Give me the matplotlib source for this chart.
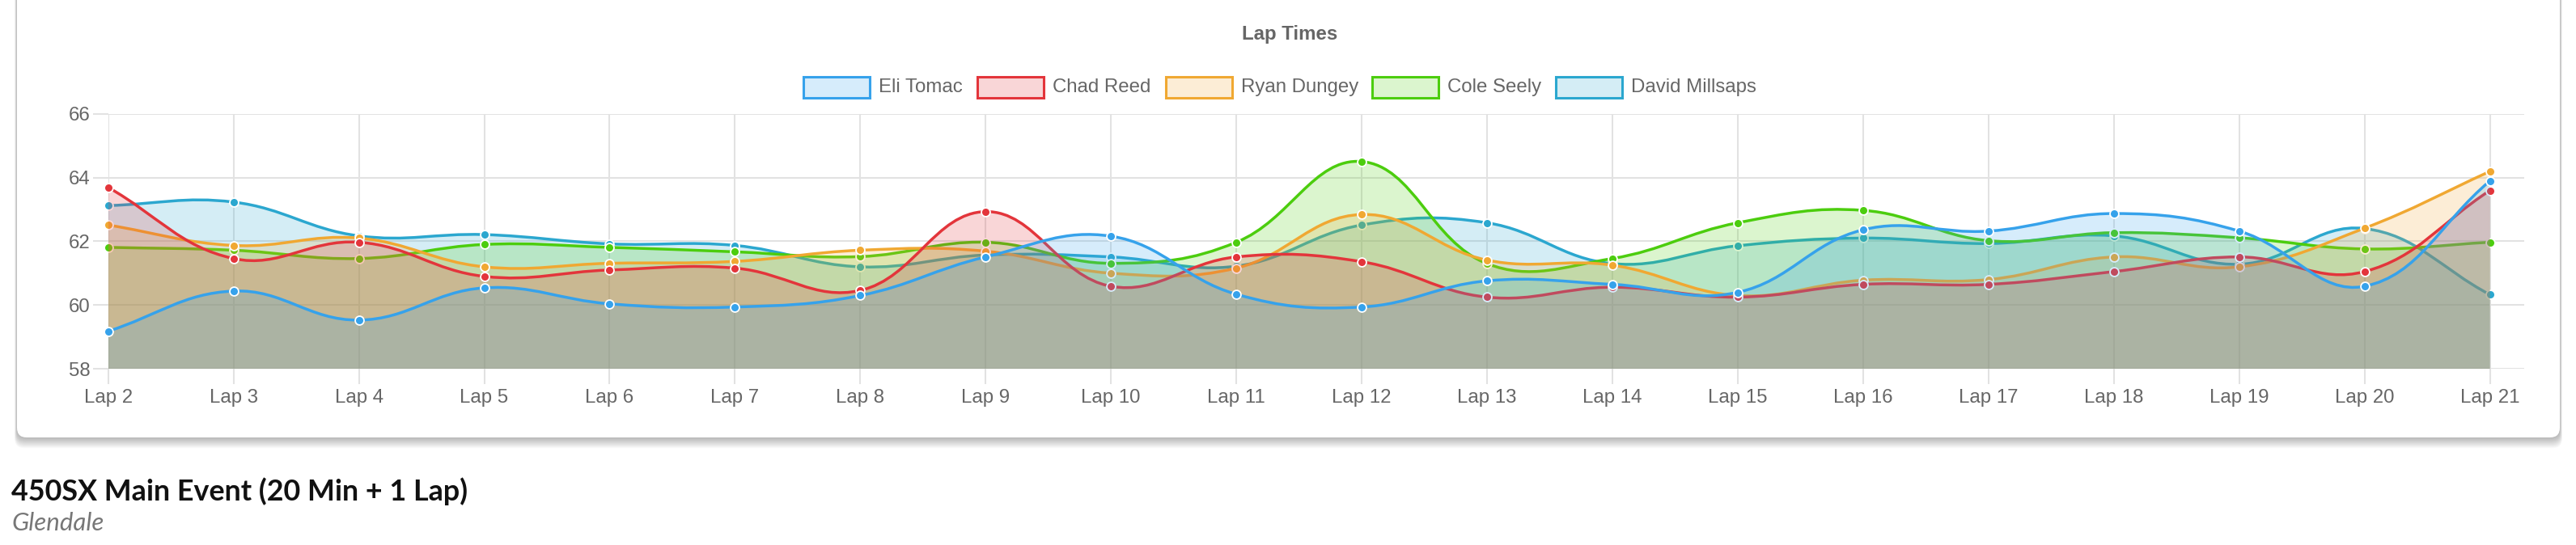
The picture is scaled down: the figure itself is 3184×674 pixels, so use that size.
import numpy as np
import matplotlib
matplotlib.use("Agg")
import matplotlib.pyplot as plt
from matplotlib.path import Path
from matplotlib.patches import PathPatch, Rectangle, FancyBboxPatch
from matplotlib.transforms import IdentityTransform

plt.rcParams['font.family'] = ['Liberation Sans', 'DejaVu Sans']

# lap labels and lap times (seconds)
laps = ["Lap 2", "Lap 3", "Lap 4", "Lap 5", "Lap 6", "Lap 7", "Lap 8", "Lap 9", "Lap 10", "Lap 11",
        "Lap 12", "Lap 13", "Lap 14", "Lap 15", "Lap 16", "Lap 17", "Lap 18", "Lap 19", "Lap 20", "Lap 21"]
eli_tomac = [59.18, 60.44, 59.53, 60.54, 60.04, 59.94, 60.30, 61.51, 62.16, 60.34,
             59.94, 60.76, 60.65, 60.40, 62.36, 62.32, 62.87, 62.32, 60.59, 63.89]
chad_reed = [63.69, 61.46, 61.97, 60.90, 61.10, 61.16, 60.46, 62.93, 60.59, 61.51,
             61.36, 60.25, 60.56, 60.25, 60.65, 60.65, 61.05, 61.51, 61.05, 63.59]
ryan_dungey = [62.51, 61.87, 62.10, 61.20, 61.31, 61.37, 61.72, 61.69, 61.00, 61.16,
               62.84, 61.41, 61.25, 60.30, 60.78, 60.80, 61.51, 61.20, 62.41, 64.19]
cole_seely = [61.81, 61.72, 61.46, 61.90, 61.81, 61.67, 61.52, 61.97, 61.31, 61.97,
              64.50, 61.30, 61.46, 62.58, 62.97, 62.02, 62.27, 62.11, 61.76, 61.97]
david_millsaps = [63.12, 63.23, 62.17, 62.21, 61.92, 61.87, 61.20, 61.57, 61.51, 61.22,
                  62.51, 62.58, 61.30, 61.86, 62.10, 61.93, 62.17, 61.28, 62.40, 60.33]

riders = ["Eli Tomac", "Chad Reed", "Ryan Dungey", "Cole Seely", "David Millsaps"]
series = [eli_tomac, chad_reed, ryan_dungey, cole_seely, david_millsaps]
colors = ["#36a2eb", "#e3353b", "#f0a832", "#4ccd0e", "#2ba7cf"]
yticks = [58, 60, 62, 64, 66]

W, H = 3184, 674
fig = plt.figure(figsize=(W / 100, H / 100), dpi=100)
fig.patch.set_facecolor("white")

def fx(x):
    return x / W

def fy(y):
    return 1 - y / H

# card with a soft shadow
card_x0, card_x1, card_y1 = 21, 3164, 541
for s in range(12, 0, -1):
    fig.add_artist(FancyBboxPatch((card_x0 - s * 0.25, H - card_y1 - s * 1.1), card_x1 - card_x0 + s * 0.5,
                                  card_y1 + 40, boxstyle="round,pad=0,rounding_size=12",
                                  transform=IdentityTransform(), fc="black", ec="none", alpha=0.022, zorder=-3))
fig.add_artist(FancyBboxPatch((card_x0, H - card_y1), card_x1 - card_x0, card_y1 + 40,
                              boxstyle="round,pad=0,rounding_size=12", transform=IdentityTransform(),
                              fc="white", ec="none", zorder=-2))

# plot area
ax_left, ax_right, lap21_x = 133.7, 3120, 3077.5
ax_top, ax_bot = 140.6, 456.2
ax = fig.add_axes([fx(ax_left), fy(ax_bot), (ax_right - ax_left) / W, (ax_bot - ax_top) / H])
ax.set_zorder(1)
ax.set_facecolor("none")
ax.set_xlim(0, (len(laps) - 1) * (ax_right - ax_left) / (lap21_x - ax_left))
ax.set_ylim(yticks[0], yticks[-1])
for sp in ax.spines.values():
    sp.set_visible(False)
ax.set_xticks(range(len(laps)))
ax.set_xticklabels(laps)
ax.set_yticks(yticks)
ax.set_yticklabels([str(v) for v in yticks])
grid_c = "#e2e2e2"
ax.grid(True, color=grid_c, lw=1.45)
ax.set_axisbelow(True)
ax.tick_params(axis="both", length=13.7, width=1.45, color=grid_c, labelcolor="#666666", labelsize=17.3)
ax.tick_params(axis="x", pad=4)
ax.tick_params(axis="y", pad=2)


def chartjs_curve(xs, ys, tension=0.4):
    # bezier control points like chart.js, computed in pixel space
    pts = ax.transData.transform(np.column_stack([xs, ys]))
    n = len(pts)
    cp_prev = np.zeros_like(pts)
    cp_next = np.zeros_like(pts)
    for i in range(n):
        p = pts[max(i - 1, 0)]
        c = pts[i]
        nx = pts[min(i + 1, n - 1)]
        d01 = np.hypot(*(c - p))
        d12 = np.hypot(*(nx - c))
        tot = d01 + d12
        s01 = d01 / tot if tot else 0
        s12 = d12 / tot if tot else 0
        cp_prev[i] = c - tension * s01 * (nx - p)
        cp_next[i] = c + tension * s12 * (nx - p)
    verts = [pts[0]]
    codes = [Path.MOVETO]
    for i in range(n - 1):
        verts += [cp_next[i], cp_prev[i + 1], pts[i + 1]]
        codes += [Path.CURVE4] * 3
    verts = ax.transData.inverted().transform(np.array(verts))
    verts[:, 1] = np.clip(verts[:, 1], yticks[0], yticks[-1])
    return verts, codes


xs = np.arange(len(laps))
base = yticks[0]
# chart.js draws the last dataset first
for k, idx in enumerate(range(len(series) - 1, -1, -1)):
    ys = series[idx]
    col = colors[idx]
    verts, codes = chartjs_curve(xs, ys)
    fill_v = np.vstack([verts, [[xs[-1], base], [xs[0], base], [xs[0], base]]])
    fill_c = codes + [Path.LINETO, Path.LINETO, Path.CLOSEPOLY]
    z = 2 + 3 * k
    ax.add_patch(PathPatch(Path(fill_v, fill_c), fc=col, ec="none", alpha=0.2, zorder=z))
    ax.add_patch(PathPatch(Path(verts, codes), fc="none", ec=col, lw=2.5, zorder=z + 1,
                           capstyle="round", joinstyle="round"))
    ax.plot(xs, ys, "o", ms=7.8, mfc=col, mec="white", mew=1.3, zorder=z + 2, clip_on=False)

# title and legend
fig.text(fx(1594), fy(43), "Lap Times", ha="center", va="center", fontsize=17.3,
         fontweight="bold", color="#666666")
box_x = [993, 1208, 1441, 1696, 1923]
for name, col, bx in zip(riders, colors, box_x):
    fig.add_artist(Rectangle((fx(bx), fy(121)), 82 / W, 26 / H, transform=fig.transFigure,
                             fc=matplotlib.colors.to_rgba(col, 0.2), ec=col, lw=2.2))
    fig.text(fx(bx + 93), fy(108), name, ha="left", va="center", fontsize=17.3, color="#666666")

# heading below the card
fig.text(fx(14), fy(619), "450SX Main Event (20 Min + 1 Lap)", family=["Lato", "DejaVu Sans"],
         fontweight="bold", fontsize=25.8, color="#111111", va="baseline")
fig.text(fx(14), fy(656.5), "Glendale", family=["Lato", "DejaVu Sans"], fontstyle="italic",
         fontsize=22.5, color="#777777", va="baseline")

fig.savefig("out.png", dpi=100, facecolor="white")
